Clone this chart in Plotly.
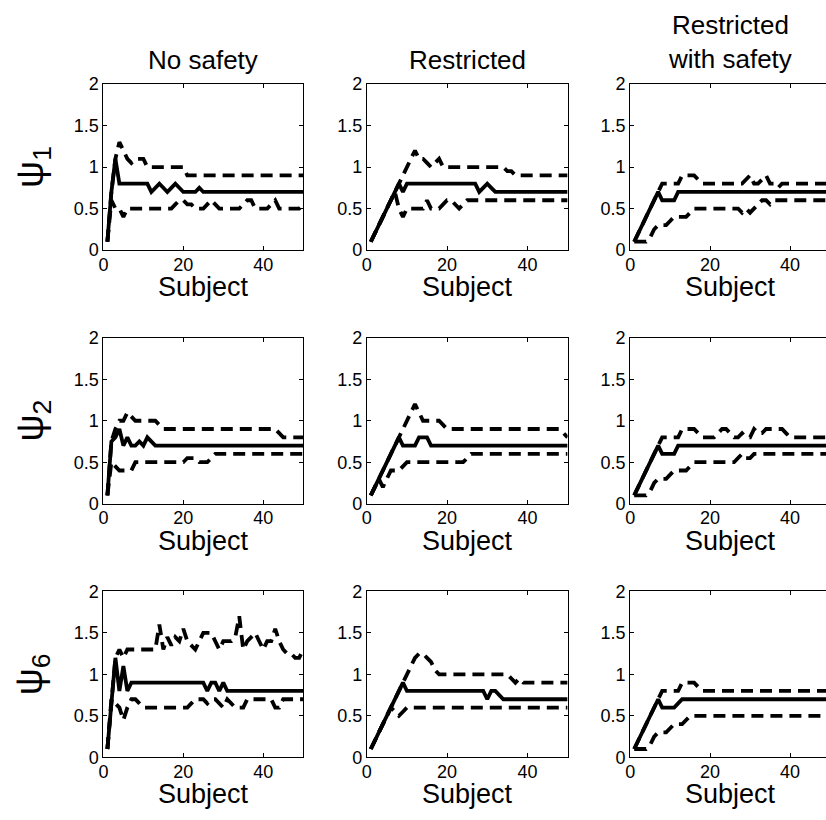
import plotly.graph_objects as go

# ---------------- data ----------------
subjects = list(range(1, 51))

col_titles = ["No safety", "Restricted", "Restricted<br>with safety"]
row_labels = ["ψ<sub>1</sub>", "ψ<sub>2</sub>", "ψ<sub>6</sub>"]
x_label = "Subject"
x_tick_vals = [0, 20, 40]
y_tick_vals = [0, 0.5, 1, 1.5, 2]
y_tick_text = ["0", "0.5", "1", "1.5", "2"]

# psi1 - No safety
psi1_nosafe_med = [0.1, 0.7, 1.1, 0.8, 0.8, 0.8, 0.8, 0.8, 0.8, 0.8,
                   0.8, 0.7, 0.75, 0.8, 0.75, 0.7, 0.75, 0.8, 0.75, 0.7,
                   0.7, 0.7, 0.7, 0.75, 0.7, 0.7, 0.7, 0.7, 0.7, 0.7,
                   0.7, 0.7, 0.7, 0.7, 0.7, 0.7, 0.7, 0.7, 0.7, 0.7,
                   0.7, 0.7, 0.7, 0.7, 0.7, 0.7, 0.7, 0.7, 0.7, 0.7]
psi1_nosafe_up = [0.1, 0.7, 1.1, 1.3, 1.2, 1.1, 1.05, 1.1, 1.1, 1.1,
                  1.0, 1.0, 1.0, 1.0, 1.0, 1.0, 1.0, 1.0, 1.0, 1.0,
                  0.9, 0.9, 0.9, 0.9, 0.9, 0.9, 0.9, 0.9, 0.9, 0.9,
                  0.9, 0.9, 0.9, 0.9, 0.9, 0.9, 0.9, 0.9, 0.9, 0.9,
                  0.9, 0.9, 0.9, 0.9, 0.9, 0.9, 0.9, 0.9, 0.9, 0.9]
psi1_nosafe_lo = [0.1, 0.6, 0.5, 0.5, 0.4, 0.5, 0.5, 0.5, 0.5, 0.5,
                  0.5, 0.5, 0.5, 0.5, 0.5, 0.5, 0.5, 0.55, 0.6, 0.6,
                  0.55, 0.55, 0.5, 0.5, 0.5, 0.55, 0.6, 0.55, 0.5, 0.5,
                  0.5, 0.5, 0.5, 0.5, 0.55, 0.6, 0.6, 0.5, 0.5, 0.5,
                  0.5, 0.55, 0.6, 0.5, 0.5, 0.5, 0.5, 0.5, 0.5, 0.55]

# psi1 - Restricted
psi1_restr_med = [0.1, 0.2, 0.3, 0.4, 0.5, 0.6, 0.7, 0.8, 0.7, 0.8,
                  0.8, 0.8, 0.8, 0.8, 0.8, 0.8, 0.8, 0.8, 0.8, 0.8,
                  0.8, 0.8, 0.8, 0.8, 0.8, 0.8, 0.8, 0.7, 0.75, 0.8,
                  0.75, 0.7, 0.7, 0.7, 0.7, 0.7, 0.7, 0.7, 0.7, 0.7,
                  0.7, 0.7, 0.7, 0.7, 0.7, 0.7, 0.7, 0.7, 0.7, 0.7]
psi1_restr_up = [0.1, 0.2, 0.3, 0.4, 0.5, 0.6, 0.7, 0.8, 0.9, 1.0,
                 1.1, 1.2, 1.1, 1.1, 1.05, 1.0, 1.05, 1.1, 1.0, 1.0,
                 1.0, 1.0, 1.0, 1.0, 1.0, 1.0, 1.0, 1.0, 1.0, 1.0,
                 1.0, 1.0, 1.0, 1.0, 0.95, 0.95, 0.9, 0.9, 0.9, 0.9,
                 0.9, 0.9, 0.9, 0.9, 0.9, 0.9, 0.9, 0.9, 0.9, 0.9]
psi1_restr_lo = [0.1, 0.2, 0.3, 0.4, 0.5, 0.6, 0.7, 0.5, 0.4, 0.5,
                 0.5, 0.5, 0.5, 0.5, 0.6, 0.5, 0.5, 0.5, 0.55, 0.6,
                 0.6, 0.55, 0.5, 0.55, 0.6, 0.6, 0.6, 0.6, 0.6, 0.6,
                 0.6, 0.6, 0.6, 0.6, 0.6, 0.6, 0.6, 0.6, 0.6, 0.6,
                 0.6, 0.6, 0.6, 0.6, 0.6, 0.6, 0.6, 0.6, 0.6, 0.6]

# psi1 - Restricted with safety
psi1_rsafe_med = [0.1, 0.2, 0.3, 0.4, 0.5, 0.6, 0.7, 0.6, 0.6, 0.6,
                  0.6, 0.7, 0.7, 0.7, 0.7, 0.7, 0.7, 0.7, 0.7, 0.7,
                  0.7, 0.7, 0.7, 0.7, 0.7, 0.7, 0.7, 0.7, 0.7, 0.7,
                  0.7, 0.7, 0.7, 0.7, 0.7, 0.7, 0.7, 0.7, 0.7, 0.7,
                  0.7, 0.7, 0.7, 0.7, 0.7, 0.7, 0.7, 0.7, 0.7, 0.7]
psi1_rsafe_up = [0.1, 0.2, 0.3, 0.4, 0.5, 0.6, 0.7, 0.8, 0.8, 0.8,
                 0.8, 0.8, 0.9, 0.9, 0.9, 0.9, 0.85, 0.8, 0.8, 0.8,
                 0.8, 0.8, 0.8, 0.8, 0.8, 0.8, 0.8, 0.8, 0.85, 0.9,
                 0.8, 0.8, 0.85, 0.9, 0.8, 0.8, 0.75, 0.8, 0.8, 0.8,
                 0.8, 0.8, 0.8, 0.8, 0.8, 0.8, 0.8, 0.8, 0.8, 0.82]
psi1_rsafe_lo = [0.1, 0.1, 0.1, 0.1, 0.15, 0.25, 0.3, 0.3, 0.3, 0.35,
                 0.4, 0.4, 0.4, 0.4, 0.45, 0.5, 0.5, 0.5, 0.5, 0.5,
                 0.5, 0.5, 0.5, 0.5, 0.5, 0.5, 0.5, 0.45, 0.5, 0.45,
                 0.5, 0.55, 0.6, 0.6, 0.55, 0.6, 0.6, 0.6, 0.6, 0.6,
                 0.6, 0.6, 0.6, 0.6, 0.6, 0.6, 0.6, 0.6, 0.6, 0.6]

# psi2 - No safety
psi2_nosafe_med = [0.1, 0.75, 0.8, 0.9, 0.7, 0.8, 0.7, 0.7, 0.75, 0.7,
                   0.8, 0.75, 0.7, 0.7, 0.7, 0.7, 0.7, 0.7, 0.7, 0.7,
                   0.7, 0.7, 0.7, 0.7, 0.7, 0.7, 0.7, 0.7, 0.7, 0.7,
                   0.7, 0.7, 0.7, 0.7, 0.7, 0.7, 0.7, 0.7, 0.7, 0.7,
                   0.7, 0.7, 0.7, 0.7, 0.7, 0.7, 0.7, 0.7, 0.7, 0.7]
psi2_nosafe_up = [0.1, 0.75, 0.9, 1.0, 1.0, 1.1, 1.05, 1.0, 1.0, 1.0,
                  1.0, 1.0, 1.0, 0.95, 0.9, 0.9, 0.9, 0.9, 0.9, 0.9,
                  0.9, 0.9, 0.9, 0.9, 0.9, 0.9, 0.9, 0.9, 0.9, 0.9,
                  0.9, 0.9, 0.9, 0.9, 0.9, 0.9, 0.9, 0.9, 0.9, 0.9,
                  0.9, 0.9, 0.9, 0.85, 0.8, 0.8, 0.8, 0.8, 0.8, 0.8]
psi2_nosafe_lo = [0.1, 0.5, 0.45, 0.4, 0.4, 0.4, 0.4, 0.5, 0.5, 0.5,
                  0.5, 0.5, 0.5, 0.5, 0.5, 0.5, 0.5, 0.5, 0.5, 0.5,
                  0.55, 0.55, 0.55, 0.5, 0.5, 0.5, 0.55, 0.6, 0.6, 0.6,
                  0.6, 0.6, 0.6, 0.6, 0.6, 0.6, 0.6, 0.6, 0.6, 0.6,
                  0.6, 0.6, 0.6, 0.6, 0.6, 0.6, 0.6, 0.6, 0.6, 0.6]

# psi2 - Restricted
psi2_restr_med = [0.1, 0.2, 0.3, 0.4, 0.5, 0.6, 0.7, 0.8, 0.7, 0.7,
                  0.7, 0.7, 0.8, 0.8, 0.8, 0.7, 0.7, 0.7, 0.7, 0.7,
                  0.7, 0.7, 0.7, 0.7, 0.7, 0.7, 0.7, 0.7, 0.7, 0.7,
                  0.7, 0.7, 0.7, 0.7, 0.7, 0.7, 0.7, 0.7, 0.7, 0.7,
                  0.7, 0.7, 0.7, 0.7, 0.7, 0.7, 0.7, 0.7, 0.7, 0.7]
psi2_restr_up = [0.1, 0.2, 0.3, 0.4, 0.5, 0.6, 0.7, 0.8, 0.9, 1.0,
                 1.1, 1.2, 1.1, 1.0, 1.0, 1.0, 1.0, 1.0, 0.95, 0.9,
                 0.9, 0.9, 0.9, 0.9, 0.9, 0.9, 0.9, 0.9, 0.9, 0.9,
                 0.9, 0.9, 0.9, 0.9, 0.9, 0.9, 0.9, 0.9, 0.9, 0.9,
                 0.9, 0.9, 0.9, 0.9, 0.9, 0.9, 0.9, 0.9, 0.85, 0.8]
psi2_restr_lo = [0.1, 0.2, 0.3, 0.2, 0.3, 0.4, 0.4, 0.4, 0.45, 0.5,
                 0.5, 0.5, 0.5, 0.5, 0.5, 0.5, 0.5, 0.5, 0.5, 0.5,
                 0.5, 0.5, 0.5, 0.5, 0.55, 0.6, 0.6, 0.6, 0.6, 0.6,
                 0.6, 0.6, 0.6, 0.6, 0.6, 0.6, 0.6, 0.6, 0.6, 0.6,
                 0.6, 0.6, 0.6, 0.6, 0.6, 0.6, 0.6, 0.6, 0.6, 0.6]

# psi2 - Restricted with safety
psi2_rsafe_med = [0.1, 0.2, 0.3, 0.4, 0.5, 0.6, 0.7, 0.6, 0.6, 0.6,
                  0.6, 0.7, 0.7, 0.7, 0.7, 0.7, 0.7, 0.7, 0.7, 0.7,
                  0.7, 0.7, 0.7, 0.7, 0.7, 0.7, 0.7, 0.7, 0.7, 0.7,
                  0.7, 0.7, 0.7, 0.7, 0.7, 0.7, 0.7, 0.7, 0.7, 0.7,
                  0.7, 0.7, 0.7, 0.7, 0.7, 0.7, 0.7, 0.7, 0.7, 0.7]
psi2_rsafe_up = [0.1, 0.2, 0.3, 0.4, 0.5, 0.6, 0.7, 0.8, 0.8, 0.8,
                 0.8, 0.8, 0.9, 0.9, 0.9, 0.9, 0.85, 0.8, 0.8, 0.8,
                 0.8, 0.85, 0.9, 0.9, 0.85, 0.8, 0.8, 0.85, 0.8, 0.8,
                 0.9, 0.85, 0.85, 0.9, 0.9, 0.9, 0.9, 0.9, 0.85, 0.8,
                 0.8, 0.8, 0.8, 0.8, 0.8, 0.8, 0.8, 0.8, 0.8, 0.8]
psi2_rsafe_lo = [0.1, 0.1, 0.1, 0.1, 0.15, 0.25, 0.3, 0.3, 0.3, 0.35,
                 0.4, 0.4, 0.4, 0.4, 0.45, 0.5, 0.5, 0.5, 0.5, 0.5,
                 0.5, 0.5, 0.5, 0.5, 0.5, 0.5, 0.55, 0.6, 0.55, 0.55,
                 0.6, 0.6, 0.6, 0.6, 0.6, 0.6, 0.6, 0.6, 0.6, 0.6,
                 0.6, 0.6, 0.6, 0.6, 0.6, 0.6, 0.6, 0.6, 0.6, 0.6]

# psi6 - No safety
psi6_nosafe_med = [0.1, 0.7, 1.2, 0.8, 1.1, 0.8, 0.9, 0.9, 0.9, 0.9,
                   0.9, 0.9, 0.9, 0.9, 0.9, 0.9, 0.9, 0.9, 0.9, 0.9,
                   0.9, 0.9, 0.9, 0.9, 0.9, 0.8, 0.9, 0.9, 0.8, 0.9,
                   0.8, 0.8, 0.8, 0.8, 0.8, 0.8, 0.8, 0.8, 0.8, 0.8,
                   0.8, 0.8, 0.8, 0.8, 0.8, 0.8, 0.8, 0.8, 0.8, 0.8]
psi6_nosafe_up = [0.1, 0.7, 1.2, 1.3, 1.2, 1.3, 1.3, 1.3, 1.3, 1.3,
                  1.3, 1.3, 1.3, 1.6, 1.3, 1.45, 1.35, 1.45, 1.4, 1.55,
                  1.4, 1.35, 1.3, 1.4, 1.5, 1.5, 1.5, 1.4, 1.3, 1.4,
                  1.4, 1.4, 1.45, 1.7, 1.3, 1.4, 1.45, 1.5, 1.4, 1.3,
                  1.4, 1.4, 1.55, 1.4, 1.3, 1.25, 1.25, 1.2, 1.2, 1.3]
psi6_nosafe_lo = [0.1, 0.7, 0.65, 0.6, 0.45, 0.6, 0.7, 0.7, 0.65, 0.6,
                  0.6, 0.6, 0.6, 0.6, 0.6, 0.6, 0.6, 0.6, 0.6, 0.6,
                  0.6, 0.65, 0.7, 0.7, 0.7, 0.65, 0.7, 0.7, 0.65, 0.6,
                  0.7, 0.65, 0.6, 0.6, 0.6, 0.7, 0.7, 0.7, 0.7, 0.7,
                  0.7, 0.7, 0.6, 0.6, 0.7, 0.7, 0.7, 0.7, 0.7, 0.7]

# psi6 - Restricted
psi6_restr_med = [0.1, 0.2, 0.3, 0.4, 0.5, 0.6, 0.7, 0.8, 0.9, 0.8,
                  0.8, 0.8, 0.8, 0.8, 0.8, 0.8, 0.8, 0.8, 0.8, 0.8,
                  0.8, 0.8, 0.8, 0.8, 0.8, 0.8, 0.8, 0.8, 0.8, 0.7,
                  0.8, 0.8, 0.75, 0.7, 0.7, 0.7, 0.7, 0.7, 0.7, 0.7,
                  0.7, 0.7, 0.7, 0.7, 0.7, 0.7, 0.7, 0.7, 0.7, 0.7]
psi6_restr_up = [0.1, 0.2, 0.3, 0.4, 0.5, 0.6, 0.7, 0.8, 0.9, 1.0,
                 1.1, 1.2, 1.25, 1.25, 1.2, 1.15, 1.05, 1.0, 1.0, 1.0,
                 1.0, 1.0, 1.0, 1.0, 1.0, 1.0, 1.0, 1.0, 1.0, 1.0,
                 1.0, 1.0, 1.0, 1.0, 1.0, 0.95, 0.9, 0.95, 0.9, 0.9,
                 0.9, 0.9, 0.9, 0.9, 0.9, 0.9, 0.9, 0.9, 0.9, 0.9]
psi6_restr_lo = [0.1, 0.2, 0.3, 0.4, 0.5, 0.6, 0.55, 0.5, 0.55, 0.6,
                 0.6, 0.6, 0.6, 0.6, 0.6, 0.6, 0.6, 0.6, 0.6, 0.6,
                 0.6, 0.6, 0.6, 0.6, 0.6, 0.6, 0.6, 0.6, 0.6, 0.6,
                 0.6, 0.6, 0.6, 0.6, 0.6, 0.6, 0.6, 0.6, 0.6, 0.6,
                 0.6, 0.6, 0.6, 0.6, 0.6, 0.6, 0.6, 0.6, 0.6, 0.6]

# psi6 - Restricted with safety
psi6_rsafe_med = [0.1, 0.2, 0.3, 0.4, 0.5, 0.6, 0.7, 0.6, 0.6, 0.6,
                  0.6, 0.65, 0.7, 0.7, 0.7, 0.7, 0.7, 0.7, 0.7, 0.7,
                  0.7, 0.7, 0.7, 0.7, 0.7, 0.7, 0.7, 0.7, 0.7, 0.7,
                  0.7, 0.7, 0.7, 0.7, 0.7, 0.7, 0.7, 0.7, 0.7, 0.7,
                  0.7, 0.7, 0.7, 0.7, 0.7, 0.7, 0.7, 0.7, 0.7, 0.7]
psi6_rsafe_up = [0.1, 0.2, 0.3, 0.4, 0.5, 0.6, 0.7, 0.8, 0.8, 0.8,
                 0.8, 0.8, 0.9, 0.9, 0.9, 0.9, 0.85, 0.8, 0.8, 0.8,
                 0.8, 0.8, 0.8, 0.8, 0.8, 0.8, 0.8, 0.8, 0.8, 0.8,
                 0.8, 0.8, 0.8, 0.8, 0.8, 0.8, 0.8, 0.8, 0.8, 0.8,
                 0.8, 0.8, 0.8, 0.8, 0.8, 0.8, 0.8, 0.8, 0.8, 0.8]
psi6_rsafe_lo = [0.1, 0.1, 0.1, 0.1, 0.15, 0.25, 0.3, 0.3, 0.3, 0.35,
                 0.4, 0.4, 0.4, 0.45, 0.5, 0.5, 0.5, 0.5, 0.5, 0.5,
                 0.5, 0.5, 0.5, 0.5, 0.5, 0.5, 0.5, 0.5, 0.5, 0.5,
                 0.5, 0.5, 0.5, 0.5, 0.5, 0.5, 0.5, 0.5, 0.5, 0.5,
                 0.5, 0.5, 0.5, 0.5, 0.5, 0.5, 0.5, 0.5, 0.5, 0.5]

panels = [
    [(psi1_nosafe_lo, psi1_nosafe_med, psi1_nosafe_up),
     (psi1_restr_lo, psi1_restr_med, psi1_restr_up),
     (psi1_rsafe_lo, psi1_rsafe_med, psi1_rsafe_up)],
    [(psi2_nosafe_lo, psi2_nosafe_med, psi2_nosafe_up),
     (psi2_restr_lo, psi2_restr_med, psi2_restr_up),
     (psi2_rsafe_lo, psi2_rsafe_med, psi2_rsafe_up)],
    [(psi6_nosafe_lo, psi6_nosafe_med, psi6_nosafe_up),
     (psi6_restr_lo, psi6_restr_med, psi6_restr_up),
     (psi6_rsafe_lo, psi6_rsafe_med, psi6_rsafe_up)],
]

# ---------------- layout geometry (pixels) ----------------
W, H = 826, 820
X_MAX = 50
col_px = [(99, 300, 300), (364, 566, 566), (629, 826, 830)]  # left, visible right, full right
row_px = [(76, 246), (336, 506), (596, 766)]

FONT = "Liberation Sans, Arial, Helvetica, sans-serif"
LW = 3.8
DASH = "12px,7px"

fig = go.Figure()
layout = dict(
    width=W, height=H, autosize=False,
    margin=dict(l=0, r=0, t=0, b=0),
    paper_bgcolor="white", plot_bgcolor="white",
    showlegend=False,
    font=dict(family=FONT, color="black"),
)
annotations = []

for r in range(3):
    for c in range(3):
        idx = r * 3 + c + 1
        sfx = "" if idx == 1 else str(idx)
        x0, x1, xfull = col_px[c]
        y0, y1 = row_px[r]
        xmax = X_MAX * (x1 - x0) / (xfull - x0)
        lo, med, up = panels[r][c]
        for ys, dash in ((up, DASH), (lo, DASH), (med, "solid")):
            fig.add_trace(go.Scatter(
                x=subjects, y=ys, mode="lines",
                line=dict(color="black", width=LW, dash=dash),
                xaxis="x" + sfx, yaxis="y" + sfx, hoverinfo="skip",
            ))
        layout["xaxis" + sfx] = dict(
            domain=[x0 / W, x1 / W], anchor="y" + sfx, range=[0, xmax],
            tickvals=x_tick_vals, ticks="inside", ticklen=4, tickcolor="black",
            showline=True, linecolor="black", linewidth=1, mirror="ticks",
            showgrid=False, zeroline=False, fixedrange=True,
            ticklabelstandoff=-2,
            tickfont=dict(family=FONT, size=18, color="black"),
        )
        layout["yaxis" + sfx] = dict(
            domain=[1 - y1 / H, 1 - y0 / H], anchor="x" + sfx, range=[0, 2],
            tickvals=y_tick_vals, ticktext=y_tick_text,
            ticks="inside", ticklen=4, tickcolor="black",
            showline=True, linecolor="black", linewidth=1,
            mirror=("ticks" if c < 2 else False),
            showgrid=False, zeroline=False, fixedrange=True,
            tickfont=dict(family=FONT, size=18, color="black"),
        )
        # x label
        annotations.append(dict(
            text=x_label, xref="paper", yref="paper",
            x=(x0 + xfull) / 2 / W, y=1 - (y1 + 38) / H,
            xanchor="center", yanchor="middle", showarrow=False,
            font=dict(family=FONT, size=27, color="black"),
        ))
        if r == 0:
            ty = 51 if "<br>" not in col_titles[c] else 33
            annotations.append(dict(
                text=col_titles[c], xref="paper", yref="paper",
                x=(x0 + xfull) / 2 / W, y=1 - ty / H,
                xanchor="center", yanchor="middle", showarrow=False,
                font=dict(family=FONT, size=26, color="black"),
            ))
        if c == 0:
            annotations.append(dict(
                text=row_labels[r], xref="paper", yref="paper",
                x=28 / W, y=1 - (y0 + y1) / 2 / H, textangle=-90,
                xanchor="center", yanchor="middle", showarrow=False,
                font=dict(family=FONT, size=38, color="black"),
            ))

layout["annotations"] = annotations
fig.update_layout(**layout)
fig.write_html("out.html")
